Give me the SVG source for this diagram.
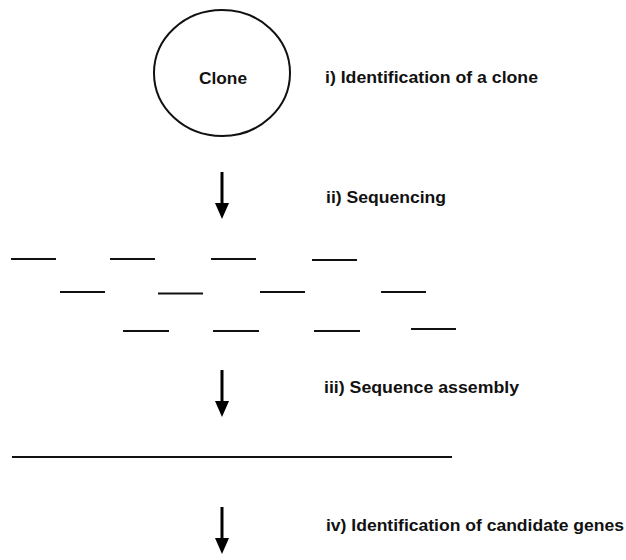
<svg xmlns="http://www.w3.org/2000/svg" width="626" height="560" viewBox="0 0 626 560">
<style>
.lbl{font-family:"Liberation Sans",Arial,sans-serif;font-weight:bold;font-size:16px;fill:#111;}
.frag{stroke:#111;stroke-width:2;}
.arrow{stroke:#000;stroke-width:3;marker-end:url(#head);}
</style>
<defs>
<marker id="head" markerUnits="userSpaceOnUse" markerWidth="16" markerHeight="14" refX="0" refY="7" orient="auto" viewBox="0 0 16 14">
<path d="M0,0 L16,7 L0,14 z" fill="#000"/>
</marker>
</defs>
<rect width="626" height="560" fill="#fff"/>
<g id="clone">
<ellipse cx="222" cy="73" rx="68" ry="63" fill="none" stroke="#111" stroke-width="2"/>
<text class="lbl" x="223" y="84" text-anchor="middle" textLength="48" lengthAdjust="spacingAndGlyphs">Clone</text>
</g>
<g id="label-i"><text class="lbl" x="325" y="83" textLength="213" lengthAdjust="spacingAndGlyphs">i) Identification of a clone</text></g>
<g id="label-ii"><text class="lbl" x="326" y="203" textLength="120" lengthAdjust="spacingAndGlyphs">ii) Sequencing</text></g>
<g id="label-iii"><text class="lbl" x="324" y="393" textLength="195" lengthAdjust="spacingAndGlyphs">iii) Sequence assembly</text></g>
<g id="label-iv"><text class="lbl" x="326" y="531" textLength="298" lengthAdjust="spacingAndGlyphs">iv) Identification of candidate genes</text></g>
<g id="fragments">
<line class="frag" x1="11" y1="259" x2="56" y2="259"/>
<line class="frag" x1="110" y1="259" x2="155" y2="259"/>
<line class="frag" x1="211" y1="259" x2="256" y2="259"/>
<line class="frag" x1="312" y1="260" x2="357" y2="260"/>
<line class="frag" x1="60" y1="292" x2="105" y2="292"/>
<line class="frag" x1="158" y1="293.5" x2="203" y2="293.5"/>
<line class="frag" x1="260" y1="292" x2="305" y2="292"/>
<line class="frag" x1="381" y1="292" x2="426" y2="292"/>
<line class="frag" x1="123" y1="331" x2="169" y2="331"/>
<line class="frag" x1="213" y1="331" x2="259" y2="331"/>
<line class="frag" x1="314" y1="331" x2="360" y2="331"/>
<line class="frag" x1="411" y1="329" x2="456" y2="329"/>
</g>
<g id="contig">
<line x1="12" y1="457" x2="452" y2="457" stroke="#111" stroke-width="2"/>
</g>
<g id="connectors">
<line class="arrow" x1="222" y1="172" x2="222" y2="203"/>
<line class="arrow" x1="222" y1="370" x2="222" y2="401"/>
<line class="arrow" x1="222" y1="507" x2="222" y2="538"/>
</g>
</svg>
